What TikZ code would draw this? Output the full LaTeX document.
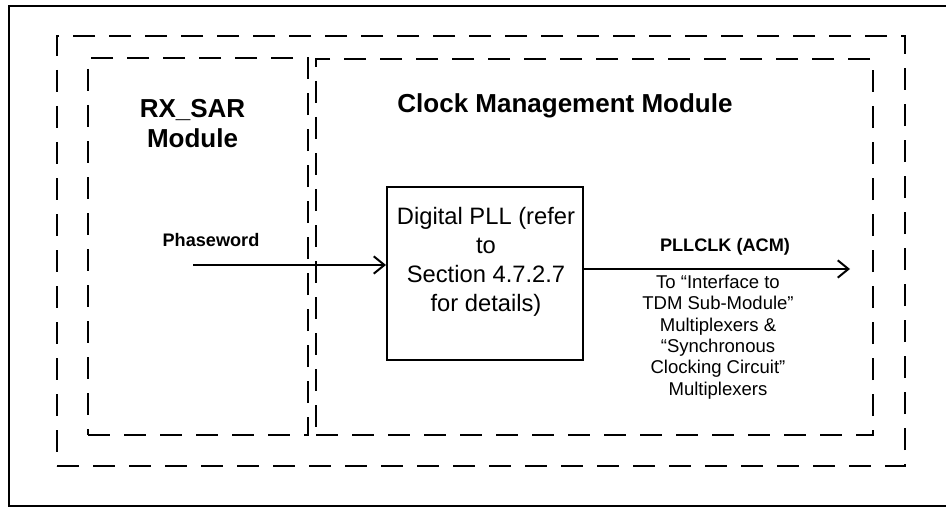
\documentclass[tikz,border=0pt]{standalone}
\usepackage{fontspec}
\setmainfont{Liberation Sans}
\usetikzlibrary{arrows.meta,positioning}

\begin{document}
\begin{tikzpicture}[
  x=0.75pt, y=-0.75pt,
  module/.style={draw, line width=1.5pt, dash pattern=on 16.5pt off 10.5pt, inner sep=0pt},
  title/.style={align=center, font=\fontsize{19.5}{22.5}\selectfont\bfseries},
  sig/.style={font=\fontsize{13.6}{16}\selectfont\bfseries},
  box/.style={draw, line width=1.5pt, inner sep=0pt, minimum width=147pt, minimum height=129.75pt},
  arrow/.style={-{Straight Barb[length=8pt,width=13pt]}, line width=1.5pt}
]
\useasboundingbox (0,0) rectangle (946,510);
\draw[line width=1.5pt] (946,6) -- (9,6) -- (9,506) -- (946,506);

% module outlines
\node[module, minimum width=636pt, minimum height=322.5pt] (system) at (481,251) {};
\node[module, minimum width=165pt, minimum height=282.75pt] (rxsar) at (198,246.5) {};
\node[module, minimum width=417.75pt, minimum height=282pt] (cmm) at (594.5,247) {};
\node[title] (rxsartitle) at (192.5,124) {RX\_SAR\\Module};
\node[title] (cmmtitle) at (565,106) {Clock Management Module};

% digital PLL
\node[box] (pll) at (485,273.5) {};
\node[align=center, font=\fontsize{17.8}{21.75}\selectfont] (plltext) at (486,262)
  {Digital PLL (refer\\to\\Section 4.7.2.7\\for details)};

% signals
\coordinate (phin) at (193,265);
\coordinate (clkout) at (850,269);
\node[sig] (phlabel) at (211,240) {Phaseword};
\node[sig] (clklabel) at (725,247) {PLLCLK (ACM)};
\node[align=center, font=\fontsize{13.9}{16.1}\selectfont] (dest) at (718,337)
  {To “Interface to\\TDM Sub-Module”\\Multiplexers \&\\“Synchronous\\Clocking Circuit”\\Multiplexers};

\draw[arrow] (phin) -- (phin -| pll.west);
\draw[arrow] (pll.east |- clkout) -- (clkout);
\end{tikzpicture}
\end{document}
